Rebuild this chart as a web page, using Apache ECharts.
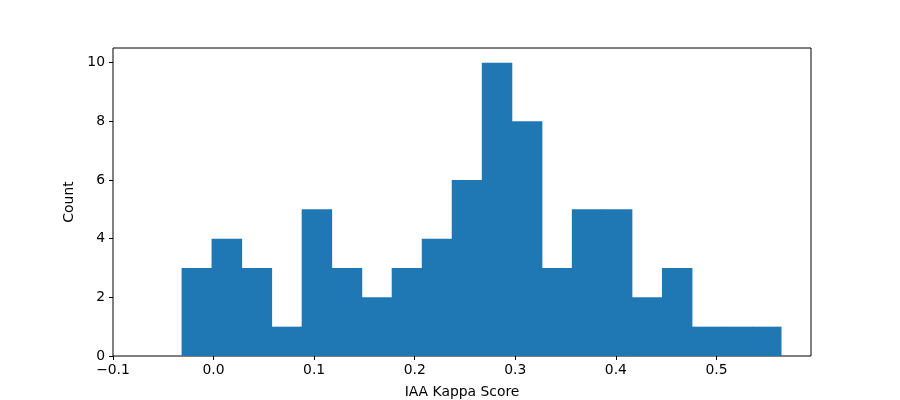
<!DOCTYPE html>
<html>
<head>
<meta charset="utf-8">
<script src="https://cdn.jsdelivr.net/npm/echarts@6/dist/echarts.min.js"></script>
<style>html,body{margin:0;padding:0;background:#fff}#c{width:900px;height:400px}</style>
</head>
<body>
<div id="c"></div>
<script>
// Histogram bin edges (IAA Kappa Score)
var binEdges = [-0.0318, -0.0020, 0.0279, 0.0577, 0.0876, 0.1174, 0.1473, 0.1771, 0.2070, 0.2368,
                0.2667, 0.2965, 0.3264, 0.3562, 0.3861, 0.4159, 0.4458, 0.4756, 0.5055, 0.5353, 0.5642];
var counts = [3, 4, 3, 1, 5, 3, 2, 3, 4, 6, 10, 8, 3, 5, 5, 2, 3, 1, 1, 1];
var xTicks = [-0.1, 0.0, 0.1, 0.2, 0.3, 0.4, 0.5];
var yTicks = [0, 2, 4, 6, 8, 10];
var xLabel = 'IAA Kappa Score';
var yLabel = 'Count';

var data = counts.map(function (c, i) { return [binEdges[i], binEdges[i + 1], c]; });
var font = 'DejaVu Sans';
var chart = echarts.init(document.getElementById('c'), null, {renderer: 'canvas'});
chart.setOption({
  animation: false,
  grid: {left: 113, right: 89, top: 48, bottom: 44, show: true, borderColor: '#000', borderWidth: 1,
         backgroundColor: 'transparent', containLabel: false, outerBoundsMode: 'none'},
  xAxis: {
    type: 'value', min: -0.1, max: 0.594,
    name: xLabel, nameLocation: 'middle', nameGap: 29,
    nameTextStyle: {color: '#000', fontFamily: font, fontSize: 13.9},
    splitLine: {show: false},
    axisLine: {show: false, onZero: false},
    axisTick: {show: true, inside: false, length: 4, lineStyle: {color: '#000', width: 1}, customValues: xTicks},
    axisLabel: {color: '#000', fontFamily: font, fontSize: 13.9, margin: 7, customValues: xTicks,
      formatter: function (v) { var s = Math.abs(v).toFixed(1); return (v < -1e-9 ? '\u2212' : '') + s; }}
  },
  yAxis: {
    type: 'value', min: 0, max: 10.5,
    name: yLabel, nameLocation: 'middle', nameGap: 35, nameRotate: 90,
    nameTextStyle: {color: '#000', fontFamily: font, fontSize: 13.9},
    splitLine: {show: false},
    axisLine: {show: false, onZero: false},
    axisTick: {show: true, inside: false, length: 4, lineStyle: {color: '#000', width: 1}, customValues: yTicks},
    axisLabel: {color: '#000', fontFamily: font, fontSize: 13.9, margin: 8, customValues: yTicks}
  },
  series: [{
    type: 'custom',
    data: data,
    encode: {x: [0, 1], y: 2},
    renderItem: function (params, api) {
      var p0 = api.coord([api.value(0), api.value(2)]);
      var p1 = api.coord([api.value(1), 0]);
      return {
        type: 'rect',
        shape: {x: p0[0], y: p0[1], width: p1[0] - p0[0] + 0.5, height: p1[1] - p0[1]},
        style: {fill: '#1f77b4'}
      };
    }
  }]
});
</script>
</body>
</html>
